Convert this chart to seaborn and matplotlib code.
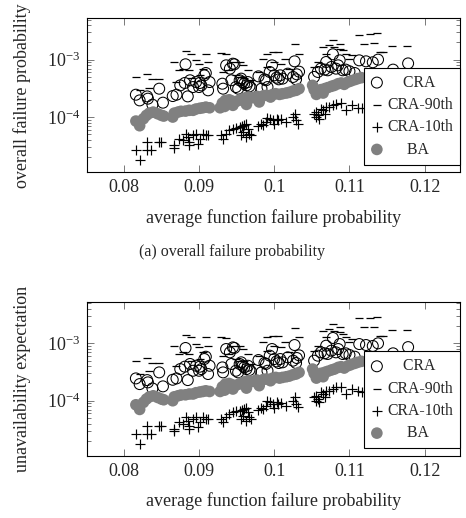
import numpy as np
import matplotlib
matplotlib.use('Agg')
import matplotlib.pyplot as plt
import seaborn as sns
from matplotlib.ticker import FixedLocator, FixedFormatter, LogLocator, NullLocator, NullFormatter

# valores (x = probabilidad media de fallo de funcion)
cra_x = [0.0816, 0.0821, 0.0831, 0.0832, 0.0838, 0.0847, 0.0852,
         0.0865, 0.0870, 0.0875, 0.0881, 0.0882, 0.0885, 0.0888, 0.0892, 0.0896, 0.0900, 0.0901, 0.0903, 0.0907, 0.0909, 0.0912, 0.0914,
         0.0931, 0.0932, 0.0936, 0.0941, 0.0943, 0.0945, 0.0947, 0.0949, 0.0952, 0.0954, 0.0956, 0.0958, 0.0960, 0.0963, 0.0965, 0.0967, 0.0969,
         0.0979, 0.0983, 0.0987, 0.0989, 0.0991, 0.0994, 0.0997, 0.1000, 0.1003, 0.1006, 0.1008, 0.1011, 0.1018, 0.1025, 0.1027, 0.1029, 0.1030, 0.1033,
         0.1053, 0.1058, 0.1062, 0.1067, 0.1069, 0.1071, 0.1076, 0.1078, 0.1082, 0.1085, 0.1087, 0.1091, 0.1095, 0.1100,
         0.1107, 0.1113, 0.1122, 0.1131, 0.1138, 0.1158, 0.1178]
cra_y = [2.45e-4, 1.95e-4, 2.29e-4, 2.09e-4, 1.64e-4, 3.12e-4, 1.78e-4,
         2.32e-4, 2.45e-4, 3.56e-4, 3.92e-4, 8.30e-4, 2.29e-4, 4.37e-4, 3.33e-4, 4.07e-4, 3.33e-4, 3.92e-4, 3.56e-4, 5.33e-4, 5.85e-4, 2.92e-4, 4.07e-4,
         3.81e-4, 3.12e-4, 7.96e-4, 6.97e-4, 4.37e-4, 8.51e-4, 8.30e-4, 3.33e-4, 3.12e-4, 4.37e-4, 4.67e-4, 4.07e-4, 3.81e-4, 3.56e-4, 4.07e-4, 3.43e-4, 3.25e-4,
         5.12e-4, 3.12e-4, 4.54e-4, 4.37e-4, 3.33e-4, 6.10e-4, 7.96e-4, 5.33e-4, 4.85e-4, 4.54e-4, 5.33e-4, 4.67e-4, 5.70e-4, 4.99e-4, 9.35e-4, 4.54e-4, 5.55e-4, 6.18e-4,
         4.99e-4, 6.10e-4, 6.97e-4, 6.70e-4, 9.10e-4, 6.52e-4, 7.45e-4, 1.24e-3, 6.97e-4, 7.96e-4, 9.72e-4, 6.52e-4, 6.70e-4, 6.27e-4,
         5.85e-4, 9.72e-4, 9.35e-4, 9.00e-4, 1.00e-3, 6.70e-4, 8.60e-4]

cra90_x = [0.0816, 0.0831, 0.0838, 0.0847, 0.0822, 0.0833,
           0.0867, 0.0882, 0.0889, 0.0896, 0.0900, 0.0909, 0.0912, 0.0874, 0.0879, 0.0887, 0.0905, 0.0870, 0.0889, 0.0901,
           0.0929, 0.0936, 0.0945, 0.0954, 0.0958, 0.0965, 0.0960, 0.0954, 0.0932, 0.0940, 0.0949, 0.0969,
           0.0980, 0.0985, 0.0991, 0.0998, 0.1005, 0.1000, 0.1009, 0.0991, 0.1020, 0.1027, 0.1033, 0.1014,
           0.1053, 0.1058, 0.1065, 0.1069, 0.1073, 0.1078, 0.1080, 0.1087, 0.1091, 0.1096, 0.1087, 0.1100,
           0.1104, 0.1113, 0.1120, 0.1127, 0.1133, 0.1136, 0.1140, 0.1144, 0.1156, 0.1177]
cra90_y = [4.99e-4, 5.55e-4, 4.54e-4, 4.60e-4, 2.92e-4, 3.25e-4,
           9.10e-4, 1.40e-3, 1.27e-3, 9.72e-4, 8.51e-4, 1.27e-3, 9.10e-4, 6.52e-4, 6.97e-4, 6.52e-4, 6.97e-4, 4.07e-4, 4.85e-4, 5.33e-4,
           1.31e-3, 1.24e-3, 9.10e-4, 9.10e-4, 7.96e-4, 6.52e-4, 4.85e-4, 4.99e-4, 6.10e-4, 6.52e-4, 5.33e-4, 4.37e-4,
           6.10e-4, 1.04e-3, 1.27e-3, 1.36e-3, 1.36e-3, 9.10e-4, 8.51e-4, 7.45e-4, 6.97e-4, 1.85e-3, 1.27e-3, 1.04e-3,
           7.45e-4, 9.10e-4, 1.66e-3, 1.27e-3, 1.78e-3, 2.17e-3, 1.66e-3, 1.90e-3, 1.46e-3, 1.27e-3, 1.56e-3, 1.04e-3,
           1.19e-3, 2.73e-3, 1.90e-3, 2.77e-3, 1.93e-3, 2.88e-3, 1.36e-3, 1.34e-3, 1.71e-3, 1.71e-3]

cra10_x = [0.0816, 0.0821, 0.0831, 0.0831, 0.0836, 0.0847, 0.0850,
           0.0867, 0.0867, 0.0874, 0.0878, 0.0882, 0.0885, 0.0887, 0.0892, 0.0896, 0.0898, 0.0901, 0.0905, 0.0909, 0.0912, 0.0886,
           0.0929, 0.0932, 0.0936, 0.0940, 0.0945, 0.0949, 0.0954, 0.0957, 0.0960, 0.0963, 0.0965, 0.0958, 0.0956, 0.0967, 0.0969, 0.0963,
           0.0978, 0.0983, 0.0989, 0.0991, 0.0994, 0.0998, 0.1003, 0.1005, 0.1009, 0.1016, 0.1025, 0.1027, 0.1029, 0.1031, 0.0985, 0.1000,
           0.1053, 0.1056, 0.1058, 0.1062, 0.1065, 0.1069, 0.1073, 0.1078, 0.1082, 0.1089, 0.1096, 0.1067, 0.1060, 0.1056,
           0.1104, 0.1111, 0.1117]
cra10_y = [2.62e-5, 1.75e-5, 3.66e-5, 2.62e-5, 2.62e-5, 3.66e-5, 3.66e-5,
           3.21e-5, 2.92e-5, 4.19e-5, 3.92e-5, 5.12e-5, 4.48e-5, 3.66e-5, 4.79e-5, 5.12e-5, 3.43e-5, 4.19e-5, 5.12e-5, 4.79e-5, 4.79e-5, 3.21e-5,
           4.79e-5, 4.19e-5, 5.12e-5, 5.85e-5, 6.27e-5, 6.52e-5, 6.70e-5, 6.87e-5, 7.16e-5, 7.45e-5, 6.27e-5, 5.47e-5, 4.79e-5, 5.12e-5, 4.79e-5, 4.48e-5,
           6.87e-5, 7.45e-5, 8.18e-5, 9.73e-5, 9.35e-5, 8.75e-5, 9.35e-5, 8.75e-5, 9.10e-5, 8.18e-5, 1.00e-4, 1.14e-4, 8.75e-5, 7.65e-5, 7.16e-5, 7.45e-5,
           1.14e-4, 1.22e-4, 1.07e-4, 1.40e-4, 1.31e-4, 1.49e-4, 1.49e-4, 1.60e-4, 1.71e-4, 1.75e-4, 1.31e-4, 1.14e-4, 9.35e-5, 1.00e-4,
           1.60e-4, 1.45e-4, 1.42e-4]

ba_x = [0.0816, 0.0821, 0.0826, 0.0830, 0.0834, 0.0839, 0.0845, 0.0850, 0.0853,
        0.0865, 0.0867, 0.0872, 0.0876, 0.0882, 0.0887, 0.0892, 0.0896, 0.0901, 0.0905, 0.0909, 0.0914,
        0.0928, 0.0931, 0.0935, 0.0940, 0.0944, 0.0948, 0.0953, 0.0957, 0.0962, 0.0966, 0.0971, 0.0977, 0.0981,
        0.0986, 0.0990, 0.0995, 0.0998, 0.1002, 0.1007, 0.1011, 0.1016, 0.1020, 0.1025, 0.1029, 0.1033,
        0.0934, 0.0945, 0.0963, 0.0980,
        0.1051, 0.1053, 0.1058, 0.1062, 0.1067, 0.1071, 0.1076, 0.1080, 0.1085, 0.1089, 0.1093, 0.1098,
        0.1102, 0.1107, 0.1111, 0.1116, 0.1056, 0.1065]
ba_y = [8.51e-5, 7.06e-5, 9.35e-5, 1.07e-4, 1.17e-4, 1.22e-4, 1.14e-4, 1.07e-4, 1.04e-4,
        1.00e-4, 1.17e-4, 1.22e-4, 1.26e-4, 1.27e-4, 1.31e-4, 1.31e-4, 1.38e-4, 1.42e-4, 1.45e-4, 1.49e-4, 1.45e-4,
        1.45e-4, 1.75e-4, 1.95e-4, 2.00e-4, 1.90e-4, 1.83e-4, 1.95e-4, 2.06e-4, 2.17e-4, 2.23e-4, 2.17e-4, 2.29e-4, 2.23e-4,
        2.36e-4, 2.39e-4, 2.23e-4, 2.48e-4, 2.55e-4, 2.48e-4, 2.55e-4, 2.62e-4, 2.69e-4, 2.84e-4, 2.92e-4, 3.12e-4,
        1.53e-4, 1.60e-4, 1.66e-4, 1.83e-4,
        3.56e-4, 3.00e-4, 2.84e-4, 3.00e-4, 3.12e-4, 3.25e-4, 3.43e-4, 3.56e-4, 3.81e-4, 3.92e-4, 3.71e-4, 4.07e-4,
        4.25e-4, 4.48e-4, 4.67e-4, 4.85e-4, 2.48e-4, 2.62e-4]

xticks = [0.08, 0.09, 0.1, 0.11, 0.12]
xtick_labels = ['0.08', '0.09', '0.1', '0.11', '0.12']
ylabels = ['overall failure probability', 'unavailability expectation']
xlabel = 'average function failure probability'
caption = '(a) overall failure probability'
# etiquetas de la leyenda (espacios para centrar como en el original)
leyenda = ['    CRA', 'CRA-90th', 'CRA-10th', '     BA']

sns.set_style('ticks')
plt.rcParams['font.family'] = ['Liberation Serif', 'DejaVu Serif']
plt.rcParams['mathtext.fontset'] = 'stix'
plt.rcParams['font.size'] = 13

fig = plt.figure(figsize=(4.66, 5.18), dpi=100)
ax1 = fig.add_axes([87/466, 1-172.3/518, 373/466, 154/518])
ax2 = fig.add_axes([87/466, 1-456/518, 373/466, 154/518])


def dibujar(ax, ylabel):
    sns.scatterplot(x=cra_x, y=cra_y, ax=ax, marker='o', s=62, facecolor='none',
                    edgecolor='black', linewidth=0.75, label=leyenda[0])
    sns.scatterplot(x=cra90_x, y=cra90_y, ax=ax, marker='_', s=38, color='black',
                    linewidth=0.9, label=leyenda[1])
    sns.scatterplot(x=cra10_x, y=cra10_y, ax=ax, marker='+', s=44, color='black',
                    linewidth=0.85, label=leyenda[2])
    sns.scatterplot(x=ba_x, y=ba_y, ax=ax, marker='o', s=70, color='#808080',
                    edgecolor='none', linewidth=0, label=leyenda[3])
    ax.set_yscale('log')
    ax.set_xlim(0.0751, 0.1247)
    ax.set_ylim(1.09e-5, 5.25e-3)
    ax.xaxis.set_major_locator(FixedLocator(xticks))
    ax.xaxis.set_major_formatter(FixedFormatter(xtick_labels))
    ax.xaxis.set_minor_locator(NullLocator())
    ax.yaxis.set_major_locator(LogLocator(base=10, numticks=10))
    ax.yaxis.set_minor_locator(LogLocator(base=10, subs=np.arange(2, 10), numticks=20))
    ax.yaxis.set_minor_formatter(NullFormatter())
    ax.tick_params(which='both', direction='in', top=True, right=True, width=0.5,
                   color='#444444', labelsize=13, pad=5)
    ax.tick_params(which='major', length=5)
    ax.tick_params(which='minor', length=3)
    for sp in ax.spines.values():
        sp.set_color('black')
        sp.set_linewidth(0.8)
    ax.set_xlabel(xlabel, fontsize=13, labelpad=9)
    ax.set_ylabel(ylabel, fontsize=13, labelpad=11)
    leg = ax.legend(loc='lower right', bbox_to_anchor=(1.0, 0.05), borderaxespad=0,
                    frameon=True, fancybox=False, edgecolor='black', framealpha=1,
                    handlelength=0.7, handletextpad=0.3, labelspacing=0.4,
                    borderpad=0.45, scatterpoints=1, fontsize=11.3)
    leg.get_frame().set_linewidth(0.8)


dibujar(ax1, ylabels[0])
dibujar(ax2, ylabels[1])
fig.text(232/466, 1-252/518, caption, ha='center', va='center', fontsize=11.5)

fig.savefig('out.png', dpi=100)
